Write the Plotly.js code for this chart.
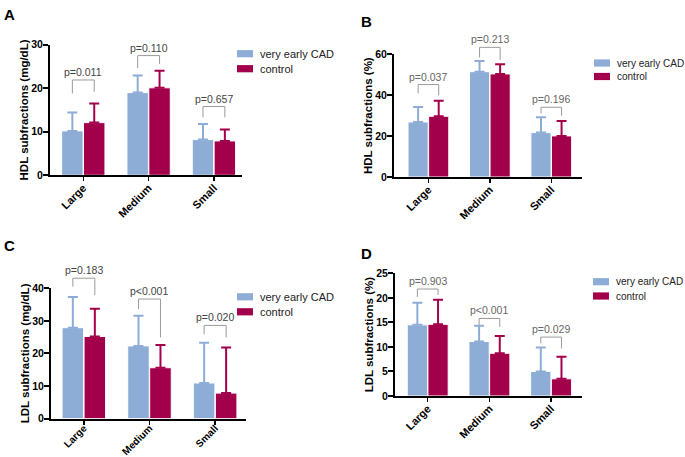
<!DOCTYPE html>
<html>
<head>
<meta charset="utf-8">
<script src="https://cdn.plot.ly/plotly-3.0.1.min.js"></script>
<style>html,body{margin:0;padding:0;background:#fff;}#chart{width:685px;height:457px;}</style>
</head>
<body>
<div id="chart"></div>
<script>
// ---------- data ----------
const categories = ['Large', 'Medium', 'Small'];
const seriesNames = ['very early CAD', 'control'];

// Panel A: HDL subfractions (mg/dL)
const hdlMgCAD = [10.2, 19.0, 8.2];
const hdlMgCADsd = [4.2, 3.9, 3.6];
const hdlMgCtrl = [12.1, 20.1, 7.9];
const hdlMgCtrlsd = [4.4, 3.9, 2.6];
const hdlMgP = ['p=0.011', 'p=0.110', 'p=0.657'];
const hdlMgBracketTop = [21.9, 27.5, 15.8];
const hdlMgBracketLeft = [18.8, 24.6, 13.3];
const hdlMgBracketRight = [19.2, 25.6, 13.3];

// Panel B: HDL subfractions (%)
const hdlPctCAD = [26.9, 51.5, 21.7];
const hdlPctCADsd = [7.3, 5.2, 7.5];
const hdlPctCtrl = [29.7, 50.4, 20.1];
const hdlPctCtrlsd = [7.6, 4.7, 7.3];
const hdlPctP = ['p=0.037', 'p=0.213', 'p=0.196'];
const hdlPctBracketTop = [45.2, 63.4, 34.1];
const hdlPctBracketLeft = [40.9, 58.5, 31.1];
const hdlPctBracketRight = [39.9, 57.2, 30.0];

// Panel C: LDL subfractions (mg/dL)
const ldlMgCAD = [27.9, 22.3, 10.9];
const ldlMgCADsd = [9.4, 9.3, 12.4];
const ldlMgCtrl = [25.2, 15.6, 7.8];
const ldlMgCtrlsd = [8.5, 7.0, 14.0];
const ldlMgP = ['p=0.183', 'p<0.001', 'p=0.020'];
const ldlMgBracketTop = [43.1, 36.7, 28.6];
const ldlMgBracketLeft = [40.5, 33.6, 25.9];
const ldlMgBracketRight = [37.9, 24.9, 24.9];

// Panel D: LDL subfractions (%)
const ldlPctCAD = [14.5, 11.1, 5.0];
const ldlPctCADsd = [4.5, 3.2, 4.9];
const ldlPctCtrl = [14.6, 8.7, 3.5];
const ldlPctCtrlsd = [5.0, 3.5, 4.5];
const ldlPctP = ['p=0.903', 'p<0.001', 'p=0.029'];
const ldlPctBracketTop = [21.8, 15.8, 12.0];
const ldlPctBracketLeft = [20.2, 14.5, 10.7];
const ldlPctBracketRight = [20.6, 14.1, 9.7];

// ---------- styling ----------
const BLUE = '#8eadd6';
const RED = '#a2004b';
const COLORS = [BLUE, RED];
const FONT = 'Liberation Sans, Arial, sans-serif';
const BARGAP = 0.33;
const OFF = (1 - BARGAP) / 4;

const panels = [
  {id: '', letter: 'A', title: 'HDL subfractions (mg/dL)', ymax: 30, dtick: 10,
   cad: hdlMgCAD, cadSd: hdlMgCADsd, ctrl: hdlMgCtrl, ctrlSd: hdlMgCtrlsd,
   p: hdlMgP, top: hdlMgBracketTop, left: hdlMgBracketLeft, right: hdlMgBracketRight,
   xd: [50, 242], yd: [44.7, 175.3], xr: [-0.51, 2.43], pColor: '#444', xfs: 11, xso: -4,
   leg: {x: 237, y: 53.7, dy: 15, fs: 11}, lab: {x: 2, y: 4}},
  {id: '2', letter: 'B', title: 'HDL subfractions (%)', ymax: 60, dtick: 20,
   cad: hdlPctCAD, cadSd: hdlPctCADsd, ctrl: hdlPctCtrl, ctrlSd: hdlPctCtrlsd,
   p: hdlPctP, top: hdlPctBracketTop, left: hdlPctBracketLeft, right: hdlPctBracketRight,
   xd: [394, 582], yd: [54.3, 177], xr: [-0.56, 2.5], pColor: '#666', xfs: 11, xso: -4,
   leg: {x: 594, y: 63, dy: 13.5, fs: 10}, lab: {x: 359, y: 11}},
  {id: '3', letter: 'C', title: 'LDL subfractions (mg/dL)', ymax: 40, dtick: 10,
   cad: ldlMgCAD, cadSd: ldlMgCADsd, ctrl: ldlMgCtrl, ctrlSd: ldlMgCtrlsd,
   p: ldlMgP, top: ldlMgBracketTop, left: ldlMgBracketLeft, right: ldlMgBracketRight,
   xd: [51, 246], yd: [288.3, 418.5], xr: [-0.5, 2.47], pColor: '#444', xfs: 10, xso: -6,
   leg: {x: 237, y: 296.8, dy: 15, fs: 11}, lab: {x: 2, y: 235}},
  {id: '4', letter: 'D', title: 'LDL subfractions (%)', ymax: 25, dtick: 5,
   cad: ldlPctCAD, cadSd: ldlPctCADsd, ctrl: ldlPctCtrl, ctrlSd: ldlPctCtrlsd,
   p: ldlPctP, top: ldlPctBracketTop, left: ldlPctBracketLeft, right: ldlPctBracketRight,
   xd: [395, 582], yd: [273.3, 396], xr: [-0.53, 2.5], pColor: '#666', xfs: 11, xso: -4,
   leg: {x: 593, y: 281.7, dy: 14.3, fs: 10}, lab: {x: 359, y: 243}}
];

const W = 685, H = 457;
const traces = [];
const shapes = [];
const annotations = [];
const layout = {
  width: W, height: H,
  margin: {l: 0, r: 0, t: 0, b: 0},
  paper_bgcolor: '#fff', plot_bgcolor: '#fff',
  font: {family: FONT, color: '#000'},
  barmode: 'group', bargap: BARGAP, bargroupgap: 0.02,
  showlegend: false
};

panels.forEach((pn, k) => {
  const xa = 'x' + pn.id, ya = 'y' + pn.id;
  [[pn.cad, pn.cadSd], [pn.ctrl, pn.ctrlSd]].forEach(([vals, sds], s) => {
    traces.push({
      type: 'bar', x: categories, y: vals, name: seriesNames[s],
      xaxis: xa, yaxis: ya, showlegend: false,
      marker: {color: COLORS[s], line: {color: '#ffffff', width: 1}},
      error_y: {type: 'data', symmetric: false, array: sds, arrayminus: vals.map(() => 0),
                color: COLORS[s], thickness: 2, width: 5}
    });
  });

  const xKey = 'xaxis' + pn.id, yKey = 'yaxis' + pn.id;
  layout[xKey] = {
    domain: [pn.xd[0] / W, pn.xd[1] / W], anchor: ya,
    type: 'category', range: pn.xr, fixedrange: true,
    showline: true, linecolor: '#000', linewidth: 2,
    ticks: 'outside', ticklen: 4, tickwidth: 1.5, tickcolor: '#000',
    tickangle: -45, showgrid: false, zeroline: false, ticklabelstandoff: pn.xso,
    tickfont: {family: FONT, size: pn.xfs, weight: 'bold', color: '#000'}
  };
  layout[yKey] = {
    domain: [1 - pn.yd[1] / H, 1 - pn.yd[0] / H], anchor: xa,
    range: [0, pn.ymax], dtick: pn.dtick, fixedrange: true,
    showline: true, linecolor: '#000', linewidth: 2,
    ticks: 'outside', ticklen: 5, tickwidth: 2, tickcolor: '#000',
    showgrid: false, zeroline: false, ticklabelstandoff: -2,
    tickfont: {family: FONT, size: 10.5, weight: 'bold', color: '#000'},
    title: {text: pn.title, font: {family: FONT, size: 11.5, weight: 'bold', color: '#000'}, standoff: 0}
  };

  // legend (drawn as keys + labels)
  seriesNames.forEach((nm, s) => {
    const cy = pn.leg.y + s * pn.leg.dy;
    shapes.push({type: 'rect', xref: 'paper', yref: 'paper',
      x0: pn.leg.x / W, x1: (pn.leg.x + 16) / W,
      y0: 1 - (cy + 3.6) / H, y1: 1 - (cy - 3.6) / H,
      fillcolor: COLORS[s], line: {width: 0}});
    annotations.push({xref: 'paper', yref: 'paper', x: (pn.leg.x + 21) / W, y: 1 - cy / H,
      xanchor: 'left', yanchor: 'middle', text: nm, showarrow: false,
      font: {family: FONT, size: pn.leg.fs, color: '#222'}});
  });

  // significance brackets
  const frac = v => v / pn.ymax;
  categories.forEach((c, i) => {
    const xl = i - OFF, xr = i + OFF;
    const line = {color: '#9a9a9a', width: 1};
    shapes.push({type: 'line', xref: xa, yref: ya + ' domain',
      x0: xl, x1: xl, y0: frac(pn.left[i]), y1: frac(pn.top[i]), line: line});
    shapes.push({type: 'line', xref: xa, yref: ya + ' domain',
      x0: xl, x1: xr, y0: frac(pn.top[i]), y1: frac(pn.top[i]), line: line});
    shapes.push({type: 'line', xref: xa, yref: ya + ' domain',
      x0: xr, x1: xr, y0: frac(pn.right[i]), y1: frac(pn.top[i]), line: line});
    annotations.push({xref: xa, yref: ya + ' domain', x: i, y: frac(pn.top[i]),
      text: pn.p[i], showarrow: false, xanchor: 'center', yanchor: 'bottom', yshift: 0,
      font: {family: FONT, size: 10.5, color: pn.pColor}});
  });

  annotations.push({xref: 'paper', yref: 'paper', x: pn.lab.x / W, y: 1 - pn.lab.y / H,
    xanchor: 'left', yanchor: 'top', text: pn.letter, showarrow: false,
    font: {family: FONT, size: 15, weight: 'bold', color: '#000'}});
});

layout.shapes = shapes;
layout.annotations = annotations;

Plotly.newPlot('chart', traces, layout, {displayModeBar: false, staticPlot: true});
</script>
</body>
</html>
